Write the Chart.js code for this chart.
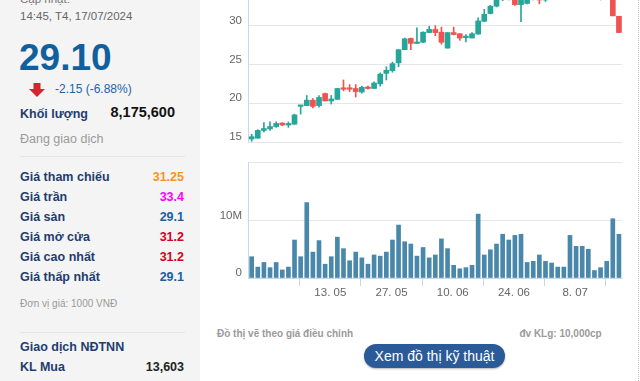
<!DOCTYPE html>
<html><head><meta charset="utf-8">
<script src="https://cdn.jsdelivr.net/npm/chart.js@4.4.1/dist/chart.umd.min.js"></script>
<style>
html,body{margin:0;padding:0;}
body{width:640px;height:381px;overflow:hidden;position:relative;background:#fff;font-family:'Liberation Sans',Arial,sans-serif;}
.a{position:absolute;white-space:nowrap;line-height:20px;}
.lbl{left:20px;font-weight:bold;font-size:12.5px;color:#1e3d70;}
.val{right:456px;font-weight:bold;font-size:12.5px;text-align:right;}
.sep{position:absolute;left:20px;width:165px;height:1px;background:#e3e3e3;}
</style></head><body>
<div style="position:absolute;left:0;top:0;width:200px;height:381px;background:#f4f4f4;"></div>
<div class="a" style="left:20px;top:-11px;font-size:11.5px;color:#777;">Cập nhật:</div>
<div class="a" style="left:20px;top:5.5px;font-size:11.5px;color:#666;">14:45, T4, 17/07/2024</div>
<div class="a" style="left:19px;top:37.5px;line-height:40px;font-size:37px;font-weight:bold;color:#11609e;">29.10</div>
<svg style="position:absolute;left:29px;top:83px" width="16" height="14" viewBox="0 0 16 14"><polygon points="4.5,0 11.5,0 11.5,6 16,6 8,14 0,6 4.5,6" fill="#d3262d"/></svg>
<div class="a" style="left:55px;top:78.8px;font-size:12px;color:#1f63a6;">-2.15 (-6.88%)</div>
<div class="a lbl" style="top:103.5px;">Khối lượng</div>
<div class="a" style="right:465px;top:102px;font-size:14.5px;font-weight:bold;color:#111;">8,175,600</div>
<div class="a" style="left:20px;top:129px;font-size:12.5px;color:#9a9a9a;">Đang giao dịch</div>
<div class="sep" style="top:156px;"></div>
<div class="a lbl" style="top:166.5px;">Giá tham chiếu</div>
<div class="a val" style="top:166.5px;color:#f7931e;">31.25</div>
<div class="a lbl" style="top:186.5px;">Giá trần</div>
<div class="a val" style="top:186.5px;color:#f0f;">33.4</div>
<div class="a lbl" style="top:206.5px;">Giá sàn</div>
<div class="a val" style="top:206.5px;color:#1b5fa0;">29.1</div>
<div class="a lbl" style="top:226.5px;">Giá mở cửa</div>
<div class="a val" style="top:226.5px;color:#d4001c;">31.2</div>
<div class="a lbl" style="top:246.5px;">Giá cao nhất</div>
<div class="a val" style="top:246.5px;color:#d4001c;">31.2</div>
<div class="a lbl" style="top:266.5px;">Giá thấp nhất</div>
<div class="a val" style="top:266.5px;color:#1b5fa0;">29.1</div>
<div class="a" style="left:20px;top:294px;font-size:10px;color:#999;">Đơn vị giá: 1000 VNĐ</div>
<div class="sep" style="top:332px;"></div>
<div class="a lbl" style="top:336.7px;">Giao dịch NĐTNN</div>
<div class="a lbl" style="top:357.3px;">KL Mua</div>
<div class="a val" style="top:357.3px;color:#222;">13,603</div>

<canvas id="cp" width="440" height="220" style="position:absolute;left:200px;top:-65px"></canvas>
<canvas id="cv" width="440" height="155" style="position:absolute;left:200px;top:150px"></canvas>

<div class="a" style="left:217px;top:324.3px;font-size:10px;font-weight:bold;color:#9a9a9a;">Đồ thị vẽ theo giá điều chỉnh</div>
<div class="a" style="right:38.3px;top:324px;font-size:10px;font-weight:bold;color:#9a9a9a;">đv KLg: 10,000cp</div>
<div style="position:absolute;left:364px;top:344px;width:141px;height:24px;border-radius:12px;background:#2b5a98;color:#fff;font-size:14px;line-height:24px;text-align:center;box-shadow:0 1px 2px rgba(0,0,0,0.3);white-space:nowrap;">Xem đồ thị kỹ thuật</div>
<div style="position:absolute;left:638px;top:0;height:381px;border-left:1px dotted #c4c4c4;"></div>

<script>
const dates = ['2024-04-19','2024-04-22','2024-04-23','2024-04-24','2024-04-25','2024-04-26','2024-05-02','2024-05-03','2024-05-06','2024-05-07',
 '2024-05-08','2024-05-09','2024-05-10','2024-05-13','2024-05-14','2024-05-15','2024-05-16','2024-05-17','2024-05-20','2024-05-21',
 '2024-05-22','2024-05-23','2024-05-24','2024-05-27','2024-05-28','2024-05-29','2024-05-30','2024-05-31','2024-06-03','2024-06-04',
 '2024-06-05','2024-06-06','2024-06-07','2024-06-10','2024-06-11','2024-06-12','2024-06-13','2024-06-14','2024-06-17','2024-06-18',
 '2024-06-19','2024-06-20','2024-06-21','2024-06-24','2024-06-25','2024-06-26','2024-06-27','2024-06-28','2024-07-01','2024-07-02',
 '2024-07-03','2024-07-04','2024-07-05','2024-07-08','2024-07-09','2024-07-10','2024-07-11','2024-07-12','2024-07-15','2024-07-16','2024-07-17'];
const openP  = [15.4,15.5,16.5,16.7,17.0,17.45,17.2,17.3,19.6,19.7, 20.4,19.7,21.25,20.3,20.5,21.9,21.9,21.9,21.45,22.0,
 21.9,22.5,23.85,24.2,25.2,26.9,28.35,27.7,27.85,29.1, 29.5,29.15,27.1,29.1,28.95,28.45,28.4,28.9,30.55,31.55,
 32.5,33.4,34.0,33.5,32.7,32.85,33.5,33.7,33.3,33.6, 34.2,34.0,33.8,34.4,35.0,34.8,34.1,33.8,33.5,33.6,31.2];
const highP  = [16.0,16.6,17.5,17.6,17.6,17.5,17.6,18.6,19.7,21.0, 20.6,21.0,21.3,21.0,21.9,23.0,22.4,22.4,22.2,22.2,
 22.75,23.9,24.7,25.3,26.9,28.4,28.4,29.7,29.2,29.9, 30.0,29.8,29.1,29.8,28.95,28.85,29.1,31.0,32.1,32.6,
 33.6,34.2,34.3,33.8,33.6,33.8,34.0,33.9,33.8,34.4, 34.8,34.5,34.6,35.2,35.6,35.0,34.5,34.2,33.9,33.6,31.2];
const lowP   = [15.1,15.5,16.3,16.5,16.9,17.1,16.9,17.3,18.6,19.7, 19.4,19.5,20.3,19.9,20.5,21.6,21.5,20.8,21.3,21.8,
 21.9,22.2,23.0,24.0,24.7,26.9,26.9,27.7,27.8,29.1, 28.7,27.6,27.1,28.8,28.1,27.9,28.4,28.9,30.5,31.5,
 32.4,33.2,33.3,32.6,30.5,32.8,33.3,32.8,33.1,33.4, 33.8,33.6,33.5,34.0,34.5,33.9,33.5,33.3,33.4,31.25,29.1];
const closeP = [15.7,16.5,16.75,17.0,17.4,17.2,17.4,18.5,19.7,20.4, 19.6,20.75,20.3,20.55,21.9,21.8,21.8,21.5,22.05,21.9,
 22.6,23.75,24.25,25.1,26.9,28.3,27.7,27.8,29.15,29.5, 29.1,27.85,29.1,28.85,28.4,28.55,28.95,30.6,31.45,32.5,
 33.4,34.0,33.5,32.7,33.3,33.5,33.7,33.3,33.6,34.2, 34.0,33.8,34.4,35.0,34.8,34.1,33.8,33.5,33.6,31.25,29.1];
const volumeM = [3.7,1.9,2.7,1.8,2.7,1.4,1.9,6.6,3.7,13.1, 4.5,6.5,2.4,3.7,7.1,5.1,3.0,4.5,3.5,2.4,
 4.0,3.8,4.5,6.6,9.2,6.3,5.9,3.8,5.3,3.5, 4.0,6.8,5.1,2.2,1.6,1.8,2.2,11.1,4.0,4.9,
 5.9,7.6,6.6,7.4,7.6,2.7,2.9,4.0,2.9,2.6, 1.9,1.9,7.4,5.5,5.5,5.0,1.3,1.8,2.9,10.3,7.6];
const tickDates = ['2024-05-13','2024-05-27','2024-06-10','2024-06-24','2024-07-08'];
const tickLabels = ['13. 05','27. 05','10. 06','24. 06','8. 07'];

const GREEN = '#26a69a', RED = '#ef5350';
const FONT = "'Liberation Sans', Arial, sans-serif";
Chart.defaults.font.family = FONT;
const idx = dates.map((d,i)=>i);
const candleColors = idx.map(i => closeP[i] >= openP[i] ? GREEN : RED);
const tickPos = tickDates.map(d => dates.indexOf(d) - 0.15);
const xMin = -0.6, xMax = dates.length - 0.5;

new Chart(document.getElementById('cp'), {
  type: 'bar',
  data: { datasets: [
    { data: idx.map(i => ({x:i, y:[lowP[i], highP[i]]})), backgroundColor: candleColors, barThickness: 1, grouped:false, order:2 },
    { data: idx.map(i => ({x:i, y:[openP[i], closeP[i]]})), backgroundColor: candleColors, barThickness: 5, minBarLength: 1.5, grouped:false, order:1 }
  ]},
  options: {
    responsive:false, animation:false,
    layout:{ padding:{ left:0, right:18, top:10, bottom:10 } },
    plugins:{ legend:{display:false}, tooltip:{enabled:false} },
    scales:{
      x:{ type:'linear', min:xMin, max:xMax, offset:false, display:false },
      y:{ min:15, max:40,
          ticks:{ stepSize:5, color:'#666', font:{size:11.5}, padding:6, labelOffset:-5 },
          grid:{ color:'#e6e6e6', drawTicks:false },
          border:{ color:'#ccd6eb' },
          afterFit: s => { s.width = 48; } }
    }
  }
});

new Chart(document.getElementById('cv'), {
  type: 'bar',
  data: { datasets: [
    { data: idx.map(i => ({x:i, y:volumeM[i]})), backgroundColor:'#4a88ab', barThickness:4 }
  ]},
  options: {
    responsive:false, animation:false,
    layout:{ padding:{ left:0, right:18, top:11, bottom:0 } },
    plugins:{ legend:{display:false}, tooltip:{enabled:false} },
    scales:{
      x:{ type:'linear', min:xMin, max:xMax, offset:false,
          afterBuildTicks: s => { s.ticks = tickPos.map(v => ({value:v})); },
          ticks:{ autoSkip:false, maxRotation:0, color:'#666', font:{size:11.5}, padding:0,
                  callback:(v,i) => tickLabels[i] },
          grid:{ display:true, drawOnChartArea:false, drawTicks:true, tickLength:8, color:'#ccd6eb' },
          border:{ color:'#ccd6eb' },
          afterFit: s => { s.height = 27; } },
      y:{ min:0, max:20,
          ticks:{ stepSize:10, color:'#666', font:{size:11.5}, padding:6, labelOffset:-5,
                  callback: v => v === 20 ? '' : (v === 0 ? '0' : v + 'M') },
          grid:{ color:'#e6e6e6', drawTicks:false },
          border:{ color:'#ccd6eb' },
          afterFit: s => { s.width = 48; } }
    }
  }
});
</script>
</body></html>
